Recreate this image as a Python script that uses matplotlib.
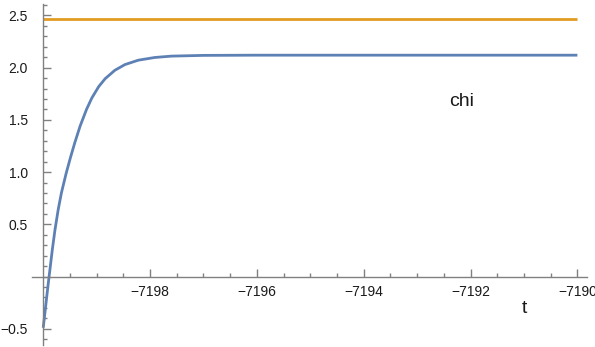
import matplotlib
matplotlib.use("Agg")
import matplotlib.pyplot as plt
import numpy as np

plt.rcParams['font.family'] = ['Liberation Sans', 'DejaVu Sans']

# values
t_chi = [-7200.0, -7199.955, -7199.905, -7199.89, -7199.83, -7199.78, -7199.72,
         -7199.66, -7199.57, -7199.49, -7199.41, -7199.31, -7199.19, -7199.09,
         -7198.96, -7198.84, -7198.66, -7198.47, -7198.22, -7197.91, -7197.6,
         -7197.0, -7196.0, -7190.0]
chi = [-0.49, -0.287, -0.063, 0.0, 0.256, 0.447, 0.64,
       0.80, 0.99, 1.14, 1.28, 1.44, 1.60, 1.71,
       1.82, 1.895, 1.975, 2.03, 2.072, 2.098, 2.111,
       2.118, 2.12, 2.12]
t_ref = [-7200.0, -7190.0]
ref = [2.465, 2.465]

xtick_vals = [-7198, -7196, -7194, -7192, -7190]
xtick_labels = ["\u22127198", "\u22127196", "\u22127194", "\u22127192", "\u22127190"]
ytick_vals = [-0.5, 0.5, 1.0, 1.5, 2.0, 2.5]
ytick_labels = ["\u22120.5", "0.5", "1.0", "1.5", "2.0", "2.5"]

fig = plt.figure(figsize=(5.95, 3.47), dpi=100)
ax = fig.add_axes([32 / 595, 1 - 345 / 347, 555 / 595, 341 / 347])

ax.plot(t_chi, chi, color="#5E81B5", lw=2.0, solid_capstyle="butt",
        solid_joinstyle="round")
ax.plot(t_ref, ref, color="#E19C24", lw=2.0, solid_capstyle="butt")

ax.set_xlim(-7200.21, -7189.82)
ax.set_ylim(-0.655, 2.61)

for side in ("top", "right"):
    ax.spines[side].set_visible(False)
ax.spines["left"].set_position(("data", -7200))
ax.spines["bottom"].set_position(("data", 0))
for side in ("left", "bottom"):
    ax.spines[side].set_color("#808080")
    ax.spines[side].set_linewidth(1.0)

ax.set_xticks(xtick_vals)
ax.set_xticklabels(xtick_labels)
ax.set_xticks(np.arange(-7199.5, -7190, 0.5), minor=True)
ax.set_yticks(ytick_vals)
ax.set_yticklabels(ytick_labels)
ax.set_yticks(np.arange(-0.6, 2.65, 0.1), minor=True)

ax.tick_params(which="both", direction="in", color="#808080", width=1.0,
               labelsize=10, labelcolor="#1a1a1a")
ax.tick_params(axis="x", which="major", length=5.5, pad=6)
ax.tick_params(axis="x", which="minor", length=3)
ax.tick_params(axis="y", which="major", length=5.5, pad=11)
ax.tick_params(axis="y", which="minor", length=3)

ax.text(0.888, 0.1085, "t", transform=ax.transAxes, fontsize=14,
        ha="center", va="center", color="#1a1a1a")
ax.text(0.775, 0.713, "chi", transform=ax.transAxes, fontsize=14,
        ha="center", va="center", color="#1a1a1a")

fig.savefig("out.png", dpi=100)
